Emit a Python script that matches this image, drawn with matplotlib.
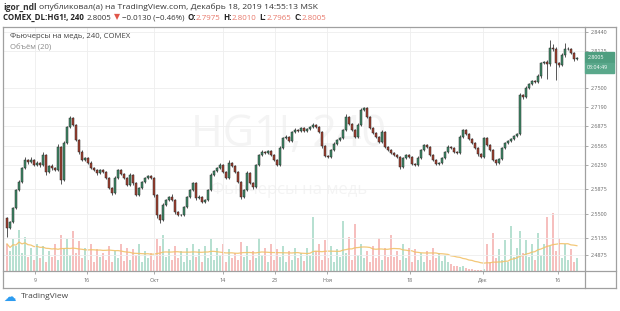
import numpy as np
import pandas as pd
import matplotlib
matplotlib.use('Agg')
import matplotlib.pyplot as plt
from matplotlib.lines import Line2D
from matplotlib.patches import Rectangle
from matplotlib.ticker import FixedLocator, NullLocator, FormatStrFormatter

plt.rcParams['font.family'] = ['Open Sans', 'DejaVu Sans']

# HG1! 4h bars, Sep 4 - Dec 18 2019
first_open = 2.5434
closes = [
    2.5282, 2.5373, 2.5587, 2.5865, 2.5990, 2.6209, 2.6336, 2.6304, 2.6336, 2.6257,
    2.6288, 2.6257, 2.6415, 2.6146, 2.6241, 2.6209, 2.6178, 2.6542, 2.6021, 2.6606,
    2.6863, 2.7008, 2.6895, 2.6654, 2.6462, 2.6336, 2.6367, 2.6288, 2.6209, 2.6178,
    2.6131, 2.6178, 2.6146, 2.6052, 2.5896, 2.5819, 2.6052, 2.6178, 2.6115, 2.6052,
    2.5943, 2.6099, 2.5974, 2.5788, 2.5896, 2.5990, 2.6052, 2.6084, 2.6052, 2.5788,
    2.5480, 2.5403, 2.5633, 2.5710, 2.5757, 2.5710, 2.5526, 2.5480, 2.5480, 2.5603,
    2.5757, 2.5865, 2.5974, 2.5741, 2.5757, 2.5680, 2.5710, 2.5865, 2.6099, 2.6162,
    2.6209, 2.6257, 2.6146, 2.6052, 2.6288, 2.6241, 2.6146, 2.5990, 2.5757, 2.5865,
    2.6131, 2.5974, 2.5912, 2.6257, 2.6415, 2.6462, 2.6447, 2.6478, 2.6415, 2.6336,
    2.6257, 2.6526, 2.6686, 2.6702, 2.6638, 2.6782, 2.6814, 2.6798, 2.6847, 2.6798,
    2.6830, 2.6863, 2.6895, 2.6863, 2.6782, 2.6558, 2.6399, 2.6383, 2.6494, 2.6590,
    2.6654, 2.6686, 2.6814, 2.7025, 2.6911, 2.6814, 2.6702, 2.6895, 2.7138, 2.7171,
    2.7025, 2.6847, 2.6766, 2.6702, 2.6622, 2.6782, 2.6542, 2.6494, 2.6447, 2.6415,
    2.6383, 2.6225, 2.6367, 2.6415, 2.6383, 2.6272, 2.6257, 2.6367, 2.6494, 2.6574,
    2.6542, 2.6415, 2.6336, 2.6272, 2.6288, 2.6367, 2.6462, 2.6542, 2.6526, 2.6462,
    2.6447, 2.6702, 2.6814, 2.6750, 2.6670, 2.6606, 2.6526, 2.6431, 2.6383, 2.6686,
    2.6574, 2.6494, 2.6336, 2.6288, 2.6351, 2.6526, 2.6606, 2.6638, 2.6670, 2.6718,
    2.6750, 2.7384, 2.7351, 2.7499, 2.7566, 2.7615, 2.7599, 2.7698, 2.7915, 2.7932,
    2.7899, 2.8168, 2.8151, 2.7915, 2.7882, 2.8050, 2.8151, 2.8151, 2.8080, 2.7975,
    2.8005,
]
# wick lengths above / below the body, in 0.001
up_wick = [
    2, 1, 2, 1, 3, 2, 5, 2, 4, 1, 3, 2, 4, 1, 2, 3, 2, 5, 2, 3,
    2, 3, 2, 1, 2, 4, 2, 1, 3, 1, 2, 1, 2, 1, 2, 1, 3, 2, 1, 2,
    1, 3, 2, 1, 2, 1, 2, 2, 1, 1, 1, 2, 3, 2, 1, 4, 1, 2, 1, 2,
    2, 1, 2, 1, 3, 1, 1, 2, 3, 1, 2, 3, 1, 2, 4, 2, 1, 1, 2, 1,
    3, 1, 2, 1, 2, 3, 1, 2, 1, 1, 1, 3, 2, 4, 2, 1, 3, 2, 2, 1,
    2, 1, 3, 2, 1, 1, 2, 1, 1, 3, 2, 1, 2, 5, 1, 2, 1, 3, 4, 2,
    1, 2, 1, 2, 1, 3, 1, 2, 1, 1, 2, 1, 2, 1, 1, 2, 1, 3, 2, 2,
    1, 1, 2, 1, 2, 1, 2, 3, 1, 1, 1, 3, 2, 1, 1, 1, 2, 1, 2, 2,
    1, 2, 1, 1, 2, 2, 1, 2, 1, 2, 1, 3, 2, 3, 2, 1, 2, 3, 2, 1,
    3, 14, 6, 3, 2, 4, 10, 3, 2, 2, 1,
]
dn_wick = [
    13, 2, 1, 2, 1, 2, 1, 3, 2, 1, 2, 3, 1, 4, 2, 3, 1, 2, 6, 1,
    2, 1, 2, 1, 3, 2, 1, 2, 1, 2, 3, 1, 2, 1, 2, 3, 1, 2, 1, 2,
    2, 1, 3, 2, 1, 2, 1, 1, 2, 3, 4, 5, 2, 1, 2, 2, 3, 2, 1, 1,
    1, 2, 1, 3, 1, 2, 1, 1, 2, 1, 2, 1, 2, 1, 1, 2, 1, 2, 3, 2,
    1, 2, 3, 1, 1, 2, 1, 1, 2, 1, 2, 1, 1, 2, 1, 2, 1, 2, 1, 2,
    1, 2, 1, 2, 1, 3, 2, 1, 2, 1, 1, 2, 1, 1, 2, 1, 2, 1, 1, 2,
    2, 1, 2, 1, 2, 1, 2, 1, 2, 1, 2, 3, 1, 2, 1, 2, 1, 1, 2, 1,
    2, 1, 2, 1, 1, 2, 1, 2, 1, 1, 2, 1, 1, 2, 1, 2, 1, 3, 1, 2,
    1, 2, 2, 3, 1, 1, 2, 1, 1, 2, 1, 2, 3, 2, 1, 2, 1, 2, 3, 2,
    25, 3, 4, 28, 3, 2, 3, 2, 2, 3, 1,
]
volumes = [
    30, 22, 35, 28, 45, 20, 38, 15, 25, 12, 30, 14, 28, 10, 22, 16, 30, 12, 40, 25,
    35, 18, 44, 20, 33, 14, 26, 12, 30, 10, 24, 15, 20, 12, 28, 10, 22, 14, 30, 11,
    26, 12, 24, 18, 30, 10, 22, 14, 20, 12, 35, 28, 40, 16, 24, 12, 28, 14, 22, 10,
    26, 12, 30, 15, 24, 10, 28, 14, 35, 12, 26, 18, 30, 10, 24, 14, 20, 12, 32, 16,
    28, 12, 22, 14, 36, 18, 25, 10, 30, 12, 24, 16, 28, 10, 22, 12, 26, 14, 20, 11,
    25, 18, 60, 22, 30, 12, 34, 14, 28, 10, 24, 16, 55, 20, 38, 12, 52, 18, 30, 14,
    22, 10, 28, 14, 36, 12, 26, 16, 40, 15, 22, 12, 30, 14, 26, 10, 24, 12, 20, 10,
    22, 12, 26, 14, 20, 11, 18, 10, 8, 6, 5, 4, 6, 3, 2, 2, 1, 1, 1, 2,
    30, 10, 42, 14, 24, 12, 34, 10, 50, 16, 26, 44, 20, 34, 16, 30, 12, 42, 18, 30,
    60, 28, 64, 22, 36, 14, 30, 12, 24, 10, 14,
]

price_ticks = [2.4875, 2.5135, 2.5500, 2.5875, 2.6250, 2.6565, 2.6875,
               2.7190, 2.7500, 2.8125, 2.8440]
time_ticks = [9.3, 26.7, 49, 72, 89.3, 106.7, 134.3, 158.7, 183.7]
time_labels = ['9', '16', 'Окт', '14', '23', 'Ноя', '18', 'Дек', '16']

W, H = 620, 311


def fx(px):
    return px / W


def fy(py):
    return 1 - py / H


c = np.array(closes)
o = np.array([first_open] + closes[:-1])
hi = np.maximum(o, c) + np.array(up_wick) / 1000
lo = np.minimum(o, c) - np.array(dn_wick) / 1000
v = np.array(volumes, dtype=float)
x = np.arange(len(c))
up = c >= o
vol_ma = pd.Series(v).rolling(20, min_periods=1).mean()

fig = plt.figure(figsize=(W / 100, H / 100), dpi=100)
ax = fig.add_axes([fx(4), fy(271), fx(585) - fx(4), fy(27) - fy(271)])
axv = ax.twinx()
ax.set_zorder(axv.get_zorder() + 1)
ax.patch.set_visible(False)

# volume pane
axv.bar(x, v, width=0.7, color=np.where(up, '#9fd6c2', '#f4aaa8'), alpha=0.75, linewidth=0)
axv.plot(x, vol_ma, color='#f2c26a', lw=0.9, alpha=0.9)
axv.set_ylim(0, 270)
axv.set_yticks([])
for s in axv.spines.values():
    s.set_visible(False)
axv.text(0.49, 0.56, 'HG1!, 240', transform=axv.transAxes, ha='center', va='center',
         fontsize=31, color='#f4f4f4', zorder=0)
axv.text(0.49, 0.33, 'Фьючерсы на медь', transform=axv.transAxes, ha='center', va='center',
         fontsize=12, color='#f4f4f4', zorder=0)

# candles
ax.vlines(x, lo, hi, color='#3a3a3a', lw=0.6, zorder=2)
ax.bar(x, np.abs(c - o), bottom=np.minimum(o, c), width=0.62,
       color=np.where(up, '#3f8c69', '#a5402f'), edgecolor='#262626', linewidth=0.35, zorder=3)

ax.set_xlim(-1, 192.7)
ax.set_yscale('log')
ax.set_ylim(2.4637, 2.8526)
ax.yaxis.set_major_locator(FixedLocator(price_ticks))
ax.yaxis.set_minor_locator(NullLocator())
ax.yaxis.set_major_formatter(FormatStrFormatter('%.4f'))
ax.yaxis.tick_right()
ax.tick_params(axis='y', length=2.5, width=0.5, color='#888888', labelsize=3.9,
               labelcolor='#666666', pad=1.5)
ax.set_xticks(time_ticks, time_labels)
ax.tick_params(axis='x', length=2, width=0.5, color='#888888', labelsize=3.9,
               labelcolor='#666666', pad=3)
ax.grid(True, color='#eeeeee', lw=0.6)
ax.set_axisbelow(True)
for s in ax.spines.values():
    s.set_visible(False)

# frame
frame = [((3, 616), (27, 27)), ((3, 616), (288, 288)), ((3, 3), (27, 288)),
         ((616, 616), (27, 288)), ((585, 585), (27, 288)), ((3, 616), (271, 271))]
for xs, ys in frame:
    fig.add_artist(Line2D([fx(xs[0]), fx(xs[1])], [fy(ys[0]), fy(ys[1])],
                          color='#a0a0a0', lw=0.9))

# last price label
fig.add_artist(Rectangle((fx(585), fy(62.5)), fx(614) - fx(585), fy(52) - fy(62.5),
                         color='#4f9e80', zorder=5))
fig.add_artist(Rectangle((fx(585), fy(73)), fx(614) - fx(585), fy(62.5) - fy(73),
                         color='#5aa88b', zorder=5))
fig.text(fx(588), fy(57.3), '2.8005', fontsize=3.9, color='white', va='center', zorder=6)
fig.text(fx(587), fy(67.8), '03:04:49', fontsize=3.9, color='white', va='center', zorder=6)

renderer = fig.canvas.get_renderer()


def runs_text(x_px, y_px, runs, size):
    for s, col, wt, gap in runs:
        t = fig.text(fx(x_px), fy(y_px), s, fontsize=size, color=col, fontweight=wt,
                     va='center', ha='left')
        x_px = t.get_window_extent(renderer).x1 + gap


dark = '#333333'
red = '#e8796b'
runs_text(3, 7, [('igor_ndl', dark, 'bold', 2),
                 ('опубликовал(а) на TradingView.com, Декабрь 18, 2019 14:55:13 MSK', dark, 'normal', 0)], 6.1)
runs_text(3, 18, [('COMEX_DL:HG1!, 240', '#222222', 'bold', 3),
                  ('2.8005', dark, 'normal', 2),
                  ('▼', '#e0564a', 'normal', 2),
                  ('−0.0130 (−0.46%)', dark, 'normal', 3),
                  ('O:', '#222222', 'bold', 0), ('2.7975', red, 'normal', 3),
                  ('H:', '#222222', 'bold', 0), ('2.8010', red, 'normal', 3),
                  ('L:', '#222222', 'bold', 0), ('2.7965', red, 'normal', 3),
                  ('C:', '#222222', 'bold', 0), ('2.8005', red, 'normal', 0)], 5.7)

fig.text(fx(10), fy(37), 'Фьючерсы на медь, 240, COMEX', fontsize=5.6, color='#444444', va='center')
fig.text(fx(10), fy(48), 'Объём (20)', fontsize=5.6, color='#8a8a8a', va='center')

fig.text(fx(3), fy(297), '☁', fontsize=9, color='#2d9cf0', va='center', family='DejaVu Sans')
fig.text(fx(21), fy(297), 'TradingView', fontsize=6, color='#444444', va='center')

fig.savefig('out.png', dpi=100)
